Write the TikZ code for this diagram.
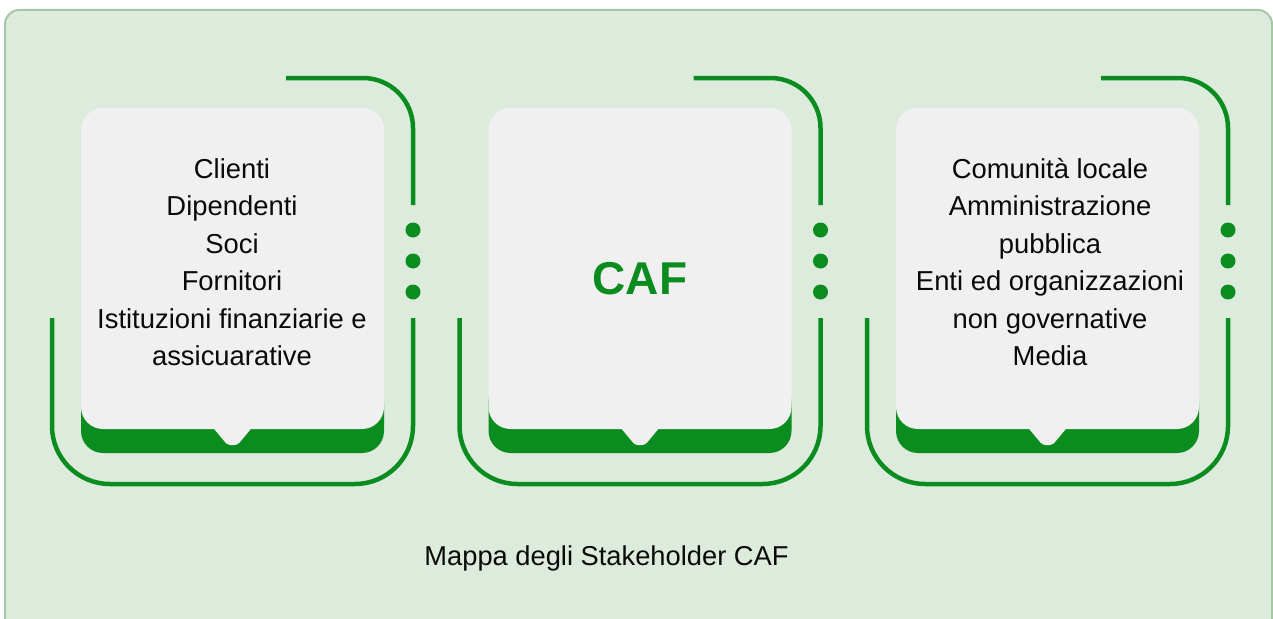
\documentclass[tikz,border=0pt]{standalone}
\usepackage{fontspec}
\setmainfont{Liberation Sans}
\definecolor{bgfill}{HTML}{DCEBDC}
\definecolor{bgline}{HTML}{A6C6A6}
\definecolor{cafgreen}{HTML}{0B8C1E}
\definecolor{cardgray}{HTML}{F0F0F0}
\definecolor{txt}{HTML}{0A0A0A}
\tikzset{
  bracket/.style={draw=cafgreen, line width=4.5pt},
  cardbody/.style={fill=cardgray, rounded corners=22pt},
  cardbase/.style={fill=cafgreen, rounded corners=22pt},
  dotmark/.style={fill=cafgreen},
  listtext/.style={font=\fontsize{27.4}{37.5}\selectfont, text=txt, align=center, inner sep=0pt},
  caftext/.style={font=\fontsize{46}{50}\selectfont\bfseries, text=cafgreen, inner sep=0pt},
  captext/.style={font=\fontsize{27.3}{32}\selectfont, text=txt, inner sep=0pt}
}
\newcommand{\stakecard}[2]{%
  % #1 = left x of card, #2 = name
  \pgfmathsetmacro{\cx}{#1+151.5}
  \fill[cardbase] (#1,380) rectangle (#1+303,453);
  \fill[cardbody] (#1,108) rectangle (#1+303,429);
  \fill[cardgray, rounded corners=3pt] (\cx-20,427) -- (\cx-5,445) -- (\cx+5,445) -- (\cx+20,427) -- cycle;
  \draw[bracket, rounded corners=50pt] (#1+205,78) -- (#1+332,78) -- (#1+332,205);
  \draw[bracket, rounded corners=58pt] (#1+332,318) -- (#1+332,484) -- (#1-29,484) -- (#1-29,318);
  \fill[dotmark] (#1+332,230) circle (7.5pt);
  \fill[dotmark] (#1+332,261) circle (7.5pt);
  \fill[dotmark] (#1+332,292) circle (7.5pt);
}
\begin{document}
\begin{tikzpicture}[x=1pt,y=-1pt]
\useasboundingbox (0,0) rectangle (1273,618);
\begin{scope}
\clip (0,0) rectangle (1273,618);
\draw[fill=bgfill, draw=bgline, line width=2pt, rounded corners=14pt] (5,10) rectangle (1272,680);
\end{scope}
\stakecard{81}{a}
\stakecard{488.5}{b}
\stakecard{896}{c}
\node[listtext] (t1) at (232,262) {Clienti\\Dipendenti\\Soci\\Fornitori\\Istituzioni finanziarie e\\assicuarative};
\node[caftext] (t2) at (640,279) {CAF};
\node[listtext] (t3) at (1050,262) {Comunità locale\\Amministrazione\\pubblica\\Enti ed organizzazioni\\non governative\\Media};
\node[captext] (cap) at (606.5,558) {Mappa degli Stakeholder CAF};
\end{tikzpicture}
\end{document}
